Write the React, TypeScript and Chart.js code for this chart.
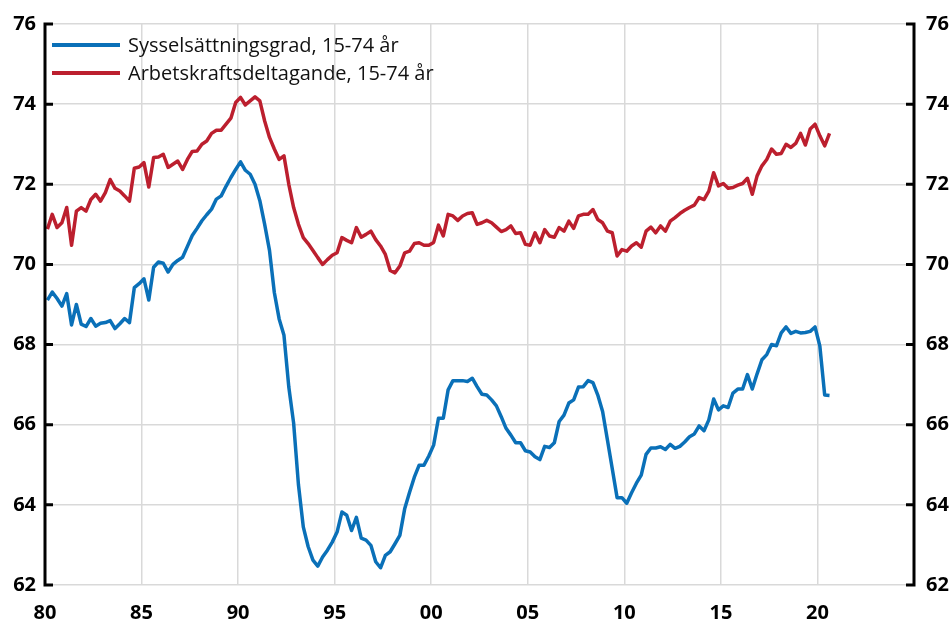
import React, { useEffect, useRef } from 'react';
import { Chart, registerables } from 'chart.js';

Chart.register(...registerables);

// Quarterly data, 1980Q1 .. 2020Q3 (percent)
const START_YEAR = 1980;
const seriesLabels = ['Sysselsättningsgrad, 15-74 år', 'Arbetskraftsdeltagande, 15-74 år'];
const seriesColors = ['#0a70b8', '#bc1f2e'];

const employmentRate = [
  69.11, 69.31, 69.15, 68.96, 69.27, 68.49, 69.0, 68.51, 68.45, 68.65,
  68.46, 68.53, 68.55, 68.6, 68.4, 68.52, 68.65, 68.55, 69.42, 69.52,
  69.64, 69.11, 69.93, 70.06, 70.03, 69.81, 70.0, 70.1, 70.18, 70.45,
  70.72, 70.9, 71.09, 71.24, 71.38, 71.63, 71.71, 71.95, 72.17, 72.37,
  72.56, 72.35, 72.25, 72.0, 71.59, 71.0, 70.35, 69.3, 68.64, 68.23,
  66.94, 66.04, 64.5, 63.45, 62.96, 62.62, 62.47, 62.7, 62.87, 63.07,
  63.32, 63.82, 63.74, 63.36, 63.69, 63.17, 63.12, 62.99, 62.58, 62.43,
  62.74, 62.83, 63.03, 63.24, 63.9, 64.31, 64.69, 64.99, 64.99, 65.22,
  65.49, 66.16, 66.16, 66.87, 67.1, 67.1, 67.1, 67.08, 67.16, 66.95,
  66.76, 66.74, 66.62, 66.47, 66.2, 65.91, 65.74, 65.55, 65.55, 65.35,
  65.32, 65.2, 65.13, 65.46, 65.43, 65.55, 66.08, 66.24, 66.54, 66.62,
  66.94, 66.95, 67.1, 67.05, 66.74, 66.33, 65.62, 64.9, 64.18, 64.18,
  64.04, 64.3, 64.54, 64.74, 65.26, 65.42, 65.42, 65.45, 65.38, 65.51,
  65.41, 65.46, 65.57, 65.7, 65.77, 65.97, 65.85, 66.12, 66.64, 66.37,
  66.47, 66.43, 66.79, 66.89, 66.89, 67.25, 66.89, 67.27, 67.62, 67.75,
  68.0, 67.97, 68.29, 68.44, 68.28, 68.33, 68.29, 68.3, 68.33, 68.44,
  67.96, 66.74, 66.73,
];

const participationRate = [
  70.88, 71.25, 70.92, 71.04, 71.42, 70.48, 71.33, 71.42, 71.33, 71.62,
  71.75, 71.58, 71.79, 72.12, 71.9, 71.83, 71.71, 71.58, 72.4, 72.43,
  72.54, 71.93, 72.67, 72.68, 72.75, 72.42, 72.5, 72.58, 72.37, 72.62,
  72.82, 72.83, 73.0, 73.08, 73.27, 73.35, 73.35, 73.5, 73.65, 74.04,
  74.17, 73.98, 74.08, 74.18, 74.08, 73.58, 73.17, 72.88, 72.62, 72.71,
  72.0, 71.42, 71.0, 70.67, 70.52, 70.35, 70.17, 70.0, 70.12, 70.23,
  70.29, 70.67, 70.6, 70.54, 70.92, 70.68, 70.75, 70.83, 70.62, 70.46,
  70.25, 69.85, 69.79, 69.96, 70.29, 70.33, 70.52, 70.54, 70.48, 70.48,
  70.55, 70.98, 70.71, 71.25, 71.21, 71.1, 71.21, 71.27, 71.29, 71.0,
  71.04, 71.1, 71.04, 70.93, 70.82, 70.87, 70.96, 70.77, 70.79, 70.5,
  70.48, 70.79, 70.54, 70.87, 70.71, 70.68, 70.92, 70.83, 71.08, 70.9,
  71.21, 71.25, 71.25, 71.37, 71.12, 71.04, 70.83, 70.79, 70.21, 70.37,
  70.33, 70.46, 70.54, 70.43, 70.83, 70.93, 70.79, 70.96, 70.83, 71.08,
  71.17, 71.27, 71.35, 71.42, 71.48, 71.67, 71.62, 71.83, 72.29, 71.96,
  72.02, 71.9, 71.92, 71.98, 72.02, 72.15, 71.75, 72.21, 72.46, 72.62,
  72.88, 72.75, 72.77, 73.0, 72.92, 73.02, 73.27, 72.98, 73.38, 73.5,
  73.21, 72.96, 73.27,
];

const xMin = 1980;
const xMax = 2025;
const xStep = 5;
const yMin = 62;
const yMax = 76;
const yStep = 2;

const toPoints = (values: number[]) =>
  values.map((v, i) => ({ x: START_YEAR + (i + 0.5) / 4, y: v }));

const TICK_FONT = 'Open Sans';
const LEGEND_FONT = 'Open Sans';

const axesAndLegend = {
  id: 'axesAndLegend',
  afterDraw(chart: any) {
    const { ctx, chartArea, scales } = chart;
    const { left, right, top, bottom } = chartArea;
    const y = scales.y;
    ctx.save();
    ctx.strokeStyle = '#000';
    ctx.lineWidth = 3;
    ctx.lineCap = 'butt';
    ctx.beginPath();
    ctx.moveTo(left, top - 1.5);
    ctx.lineTo(left, bottom + 1.5);
    ctx.moveTo(right, top - 1.5);
    ctx.lineTo(right, bottom + 1.5);
    y.ticks.forEach((t: any) => {
      const py = y.getPixelForValue(t.value);
      ctx.moveTo(left - 1.5, py);
      ctx.lineTo(left + 8, py);
      ctx.moveTo(right + 1.5, py);
      ctx.lineTo(right - 8, py);
    });
    ctx.stroke();

    // legend
    chart.data.datasets.forEach((ds: any, i: number) => {
      const ly = top + 21 + i * 28;
      ctx.strokeStyle = ds.borderColor;
      ctx.lineWidth = 4;
      ctx.beginPath();
      ctx.moveTo(left + 7, ly);
      ctx.lineTo(left + 75, ly);
      ctx.stroke();
      ctx.fillStyle = '#111';
      ctx.font = `500 20px "${LEGEND_FONT}"`;
      ctx.textBaseline = 'middle';
      ctx.textAlign = 'left';
      ctx.fillText(ds.label, left + 83, ly + 1);
    });
    ctx.restore();
  },
};

export default function App() {
  const ref = useRef<HTMLCanvasElement | null>(null);

  useEffect(() => {
    if (!ref.current) return;
    const tickFont = { family: TICK_FONT, size: 20, weight: 'bold' as const };
    const gridColor = '#d9d9d9';
    const chart = new Chart(ref.current, {
      type: 'line',
      data: {
        datasets: [
          {
            label: seriesLabels[0],
            data: toPoints(employmentRate),
            borderColor: seriesColors[0],
            backgroundColor: seriesColors[0],
            borderWidth: 3.5,
            pointRadius: 0,
            tension: 0,
            borderJoinStyle: 'round',
          },
          {
            label: seriesLabels[1],
            data: toPoints(participationRate),
            borderColor: seriesColors[1],
            backgroundColor: seriesColors[1],
            borderWidth: 3.5,
            pointRadius: 0,
            tension: 0,
            borderJoinStyle: 'round',
          },
        ],
      },
      options: {
        responsive: false,
        animation: false,
        layout: { padding: { top: 22, left: 0, right: 0, bottom: 0 } },
        plugins: {
          legend: { display: false },
          tooltip: { enabled: false },
        },
        scales: {
          x: {
            type: 'linear',
            min: xMin,
            max: xMax,
            ticks: {
              stepSize: xStep,
              font: tickFont,
              color: '#000',
              padding: 16,
              maxRotation: 0,
              autoSkip: false,
              callback: (v: any) =>
                v >= xMax ? '' : String(Math.round(v) % 100).padStart(2, '0'),
            },
            grid: { color: gridColor, lineWidth: 1.5, drawTicks: false },
            border: { display: false },
            afterFit: (s: any) => {
              s.height = 38;
            },
          },
          y: {
            position: 'left',
            min: yMin,
            max: yMax,
            ticks: { stepSize: yStep, font: tickFont, color: '#000', padding: 9 },
            grid: { color: gridColor, lineWidth: 1.5, drawTicks: false },
            border: { display: false },
            afterFit: (s: any) => {
              s.width = 45;
            },
          },
          y2: {
            position: 'right',
            min: yMin,
            max: yMax,
            ticks: { stepSize: yStep, font: tickFont, color: '#000', padding: 12 },
            grid: { display: false, drawTicks: false },
            border: { display: false },
            afterFit: (s: any) => {
              s.width = 38;
            },
          },
        },
      },
      plugins: [axesAndLegend],
    } as any);
    return () => chart.destroy();
  }, []);

  return (
    <div style={{ position: 'absolute', left: 0, top: 0, width: 952, height: 623, background: '#fff' }}>
      <canvas ref={ref} width={952} height={623} />
    </div>
  );
}
